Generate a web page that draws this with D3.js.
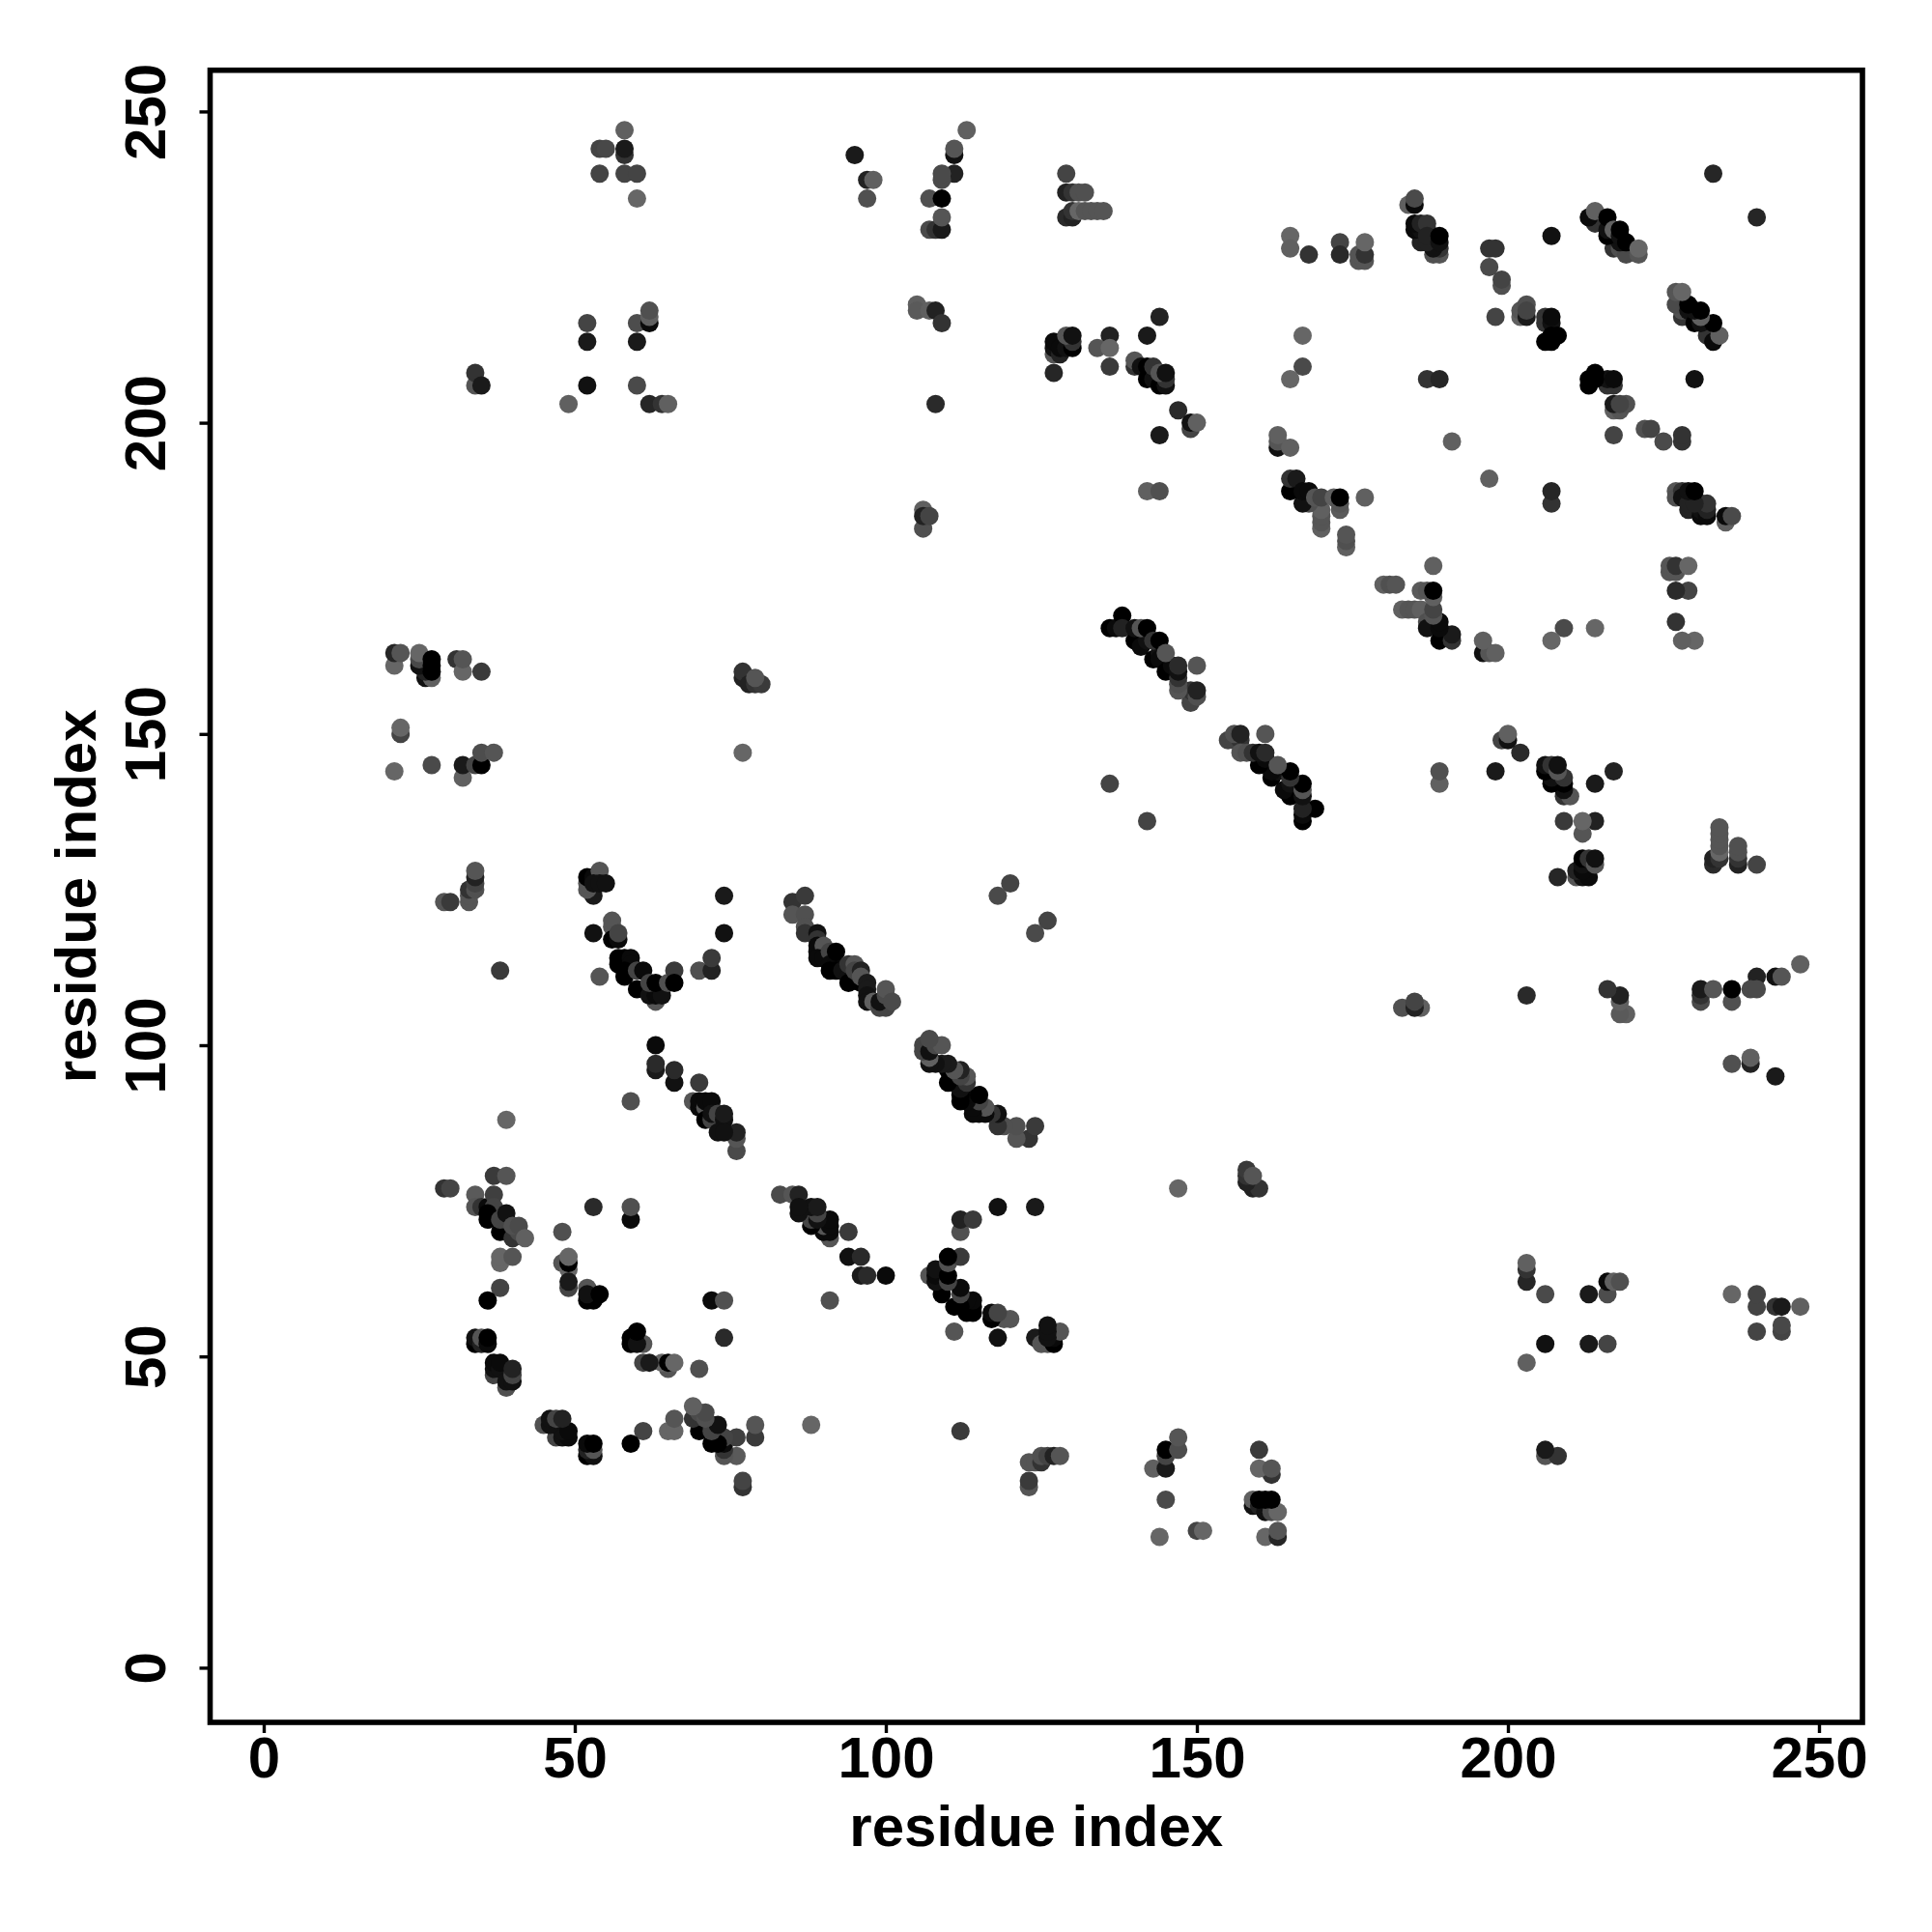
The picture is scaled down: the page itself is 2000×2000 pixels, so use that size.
<!DOCTYPE html>
<html><head><meta charset="utf-8">
<script src="https://cdn.jsdelivr.net/npm/d3@7"></script>
<style>html,body{margin:0;background:#fff}svg{display:block}text{font-family:"Liberation Sans",Arial,sans-serif;font-weight:bold;fill:#000}</style>
</head><body><svg id="c" width="2000" height="2000"></svg>
<script>
const xTicks=[0,50,100,150,200,250];
const yTicks=[0,50,100,150,200,250];
const xTitle="residue index", yTitle="residue index";
// residue pairs [i, j, grey level]; the map is symmetric
const contacts=[
[58,247,96],[54,244,68],[55,244,72],[58,243,51],[58,244,26],[54,240,68],[58,240,68],[60,240,68],[60,236,102],[95,243,26],
[52,216,68],[52,213,26],[60,216,77],[62,216,10],[62,217,96],[62,218,80],[60,213,26],[34,206,85],[34,208,51],[35,206,26],[52,206,17],[60,206,74],[49,203,96],[62,203,38],[64,203,51],[65,203,96],
[113,247,96],[111,243,17],[111,244,85],[111,240,34],[109,239,74],[109,240,74],[97,239,34],[98,239,96],[97,236,80],[107,236,80],[109,236,0],[107,231,74],[108,231,51],[109,231,26],[109,233,85],
[129,240,68],[129,237,34],[130,237,51],[131,237,80],[132,237,80],[129,233,42],[130,233,34],[130,234,51],[131,234,102],[132,234,85],[133,234,85],[134,234,85],[135,234,85],
[105,219,96],[105,218,90],[107,218,96],[108,218,34],[109,216,51],[108,203,42],[106,186,96],[106,183,80],[106,185,34],[107,185,68],
[127,211,85],[127,208,38],[127,212,17],[127,213,10],[128,211,34],[128,212,10],[129,212,17],[130,212,0],[130,213,51],[129,214,85],[130,214,17],
[136,214,34],[134,212,85],[136,212,102],[136,209,58],[142,214,26],[144,217,34],
[140,209,51],[140,210,85],[141,209,17],[142,207,0],[142,209,0],[143,207,17],[143,209,51],[144,206,0],[145,206,17],[145,207,51],[144,208,85],[145,208,17],
[147,202,42],[149,199,68],[149,200,17],[150,200,96],[144,198,26],[142,189,96],[144,189,80],
[165,230,102],[165,228,96],[168,227,51],[173,229,68],[173,227,42],[176,226,85],[177,226,85],[176,227,85],[177,227,51],[177,229,102],
[167,214,102],[167,209,74],[165,207,102],[163,196,17],[163,197,85],[163,198,96],[165,196,96],
[170,183,96],[170,184,85],[170,185,85],[170,186,96],[168,187,80],[167,187,17],[165,189,0],[165,191,51],[166,191,26],[167,189,10],[168,189,10],[169,188,85],[170,188,68],[172,188,96],[173,186,90],[173,187,85],[173,188,0],[177,188,96],[174,180,96],[174,181,80],[174,182,85],
[184,235,96],[185,235,10],[185,236,74],[189,227,85],[188,227,80],[189,228,51],[188,228,17],[186,229,34],[187,229,34],[185,231,10],[186,231,17],[187,231,34],[185,232,10],[186,232,34],[187,232,51],[187,230,34],[189,229,17],[189,230,0],
[214,232,51],[213,233,10],[214,234,96],[217,228,51],[218,228,80],[219,227,74],[218,229,17],[216,230,0],[216,231,17],[216,233,0],[217,231,96],[218,230,17],[218,231,0],[219,229,0],[221,227,85],[221,228,102],
[207,230,17],[233,240,38],[197,228,51],[198,228,51],[197,225,74],[199,222,80],[199,223,68],[198,217,68],[202,217,96],[202,218,85],[203,219,80],[203,217,26],[203,218,68],
[206,216,51],[206,217,51],[207,216,17],[207,217,10],[206,213,0],[207,213,0],[207,214,0],[208,214,0],[187,207,51],[189,207,38],[191,197,96],
[21,161,102],[21,163,38],[22,163,85],[26,159,17],[27,159,96],[26,160,34],[26,161,17],[25,161,17],[25,162,74],[25,163,102],[27,160,0],[27,161,0],[27,162,0],[31,162,51],[32,160,102],[32,162,85],[35,160,58],
[22,150,68],[22,151,102],[21,144,102],[27,145,74],[32,143,96],[32,145,26],[34,145,68],[35,145,0],[35,147,77],[37,147,85],
[33,123,85],[33,124,85],[33,125,51],[34,125,80],[34,126,68],[34,127,34],[34,128,85],[29,123,85],[30,123,58],[38,112,58],
[53,124,26],[52,125,85],[52,126,85],[52,127,0],[53,127,10],[54,128,85],[53,126,17],[54,126,17],[55,126,17],
[56,119,85],[56,120,85],[53,118,17],[56,117,0],[57,117,10],[57,118,68],[54,111,85],
[57,113,0],[57,114,0],[58,114,0],[59,114,10],[59,113,10],[58,111,0],[58,112,0],[60,112,68],[61,112,10],[60,109,0],[63,107,85],[62,108,17],[63,108,10],[64,108,17],[62,110,68],[63,110,0],[65,110,80],[66,112,58],[66,110,0],
[70,112,80],[72,112,34],[72,114,58],[74,124,26],[74,118,17],
[85,123,51],[87,124,58],[85,121,85],[87,121,80],[87,119,80],[87,118,51],[89,118,17],[89,117,51],[89,115,10],[89,116,10],[90,116,85],[89,114,10],[90,114,10],[91,115,68],[91,113,10],[92,113,10],[91,112,0],[92,112,0],[92,115,0],[93,112,17],[94,111,17],[94,110,0],[94,113,51],[95,113,85],[95,112,68],[96,112,34],[96,110,0],[96,111,85],[97,110,26],[97,109,26],[97,108,17],[97,107,17],[98,107,96],[100,106,68],[99,106,68],[99,107,17],[100,108,74],[100,109,85],[101,107,74],
[77,147,102],[77,159,34],[77,160,51],[78,158,34],[79,158,51],[80,158,58],[79,159,85],
[63,100,10],[63,96,26],[63,97,42],[66,94,17],[66,96,42],[70,94,58],
[39,88,102],[59,91,80],[76,83,74],[76,85,85],[76,86,34],
[69,91,85],[70,90,10],[70,91,10],[71,90,85],[71,91,10],[72,91,10],[71,88,0],[72,88,68],[72,89,17],[73,89,68],[74,88,17],[74,89,26],[73,86,17],[74,86,17],
[37,79,58],[39,79,85],[29,77,51],[30,77,68],[34,76,90],[34,74,85],[35,74,51],[36,74,10],[37,76,63],[37,74,68],[36,72,0],[36,73,0],[38,70,0],[39,72,68],[38,72,68],[39,73,17],[40,69,51],[41,70,74],[40,71,80],[41,71,74],[42,69,96],
[38,65,102],[38,66,102],[40,66,85],[38,61,68],[36,59,0],[48,70,80],[48,65,85],[49,64,102],[49,65,0],[49,66,102],[49,61,68],[49,62,26],[52,61,85],[52,59,0],[53,59,0],[52,60,17],[54,60,0],
[53,74,42],[59,72,10],[59,74,80],
[34,52,0],[34,53,17],[35,52,34],[35,53,85],[36,52,10],[36,53,0],[37,47,68],[39,45,80],[37,48,17],[37,49,10],[38,48,17],[38,49,10],[39,46,17],[40,46,17],[40,47,68],[40,48,34],
[136,167,0],[137,167,10],[138,169,0],[138,167,34],[140,165,0],[140,167,17],[141,164,10],[142,165,17],[141,167,85],[142,167,0],[143,162,0],[144,163,17],[143,165,51],[144,162,10],[144,165,0],[145,160,0],[146,161,10],[145,163,85],[149,155,68],[149,156,68],[149,157,51],[150,156,80],[150,157,34],[147,157,85],[147,158,80],[147,159,51],[147,160,17],[147,161,42],[150,161,85],
[136,142,68],[120,126,68],[118,124,74]
];
const points=contacts.concat(contacts.map(([i,j,g])=>[j,i,g]));
const svg=d3.select("#c");
const x=d3.scaleLinear().domain([0,250]).range([273,1883]);
const y=d3.scaleLinear().domain([0,250]).range([1726.4,115.4]);
const L=217.5,R=1928,T=72.7,B=1783;
svg.append("g").selectAll("circle").data(points).join("circle")
 .attr("cx",d=>x(d[0])).attr("cy",d=>y(d[1])).attr("r",9.5)
 .attr("fill",d=>d3.rgb(d[2],d[2],d[2]));
svg.append("rect").attr("x",L).attr("y",T).attr("width",R-L).attr("height",B-T)
 .attr("fill","none").attr("stroke","#000").attr("stroke-width",5.6);
const gx=svg.append("g").attr("transform",`translate(0,${B})`)
 .call(d3.axisBottom(x).tickValues(xTicks).tickSize(11).tickPadding(11));
gx.select(".domain").remove();
gx.selectAll("line").attr("stroke","#000").attr("stroke-width",3.4);
gx.selectAll("text").attr("font-size",60).attr("y",57).attr("dy",0).attr("text-anchor","middle");
const gy=svg.append("g").attr("transform",`translate(${L},0)`)
 .call(d3.axisLeft(y).tickValues(yTicks).tickSize(11));
gy.select(".domain").remove();
gy.selectAll("line").attr("stroke","#000").attr("stroke-width",3.4);
gy.selectAll("text").attr("font-size",60).attr("x",null).attr("dy",0).attr("text-anchor","middle")
 .attr("transform",`translate(${171-L},0) rotate(-90)`);
svg.append("text").attr("x",(L+R)/2).attr("y",1911).attr("text-anchor","middle").attr("font-size",60).text(xTitle);
svg.append("text").attr("transform",`translate(99,${(T+B)/2}) rotate(-90)`).attr("text-anchor","middle").attr("font-size",60).text(yTitle);
</script></body></html>
